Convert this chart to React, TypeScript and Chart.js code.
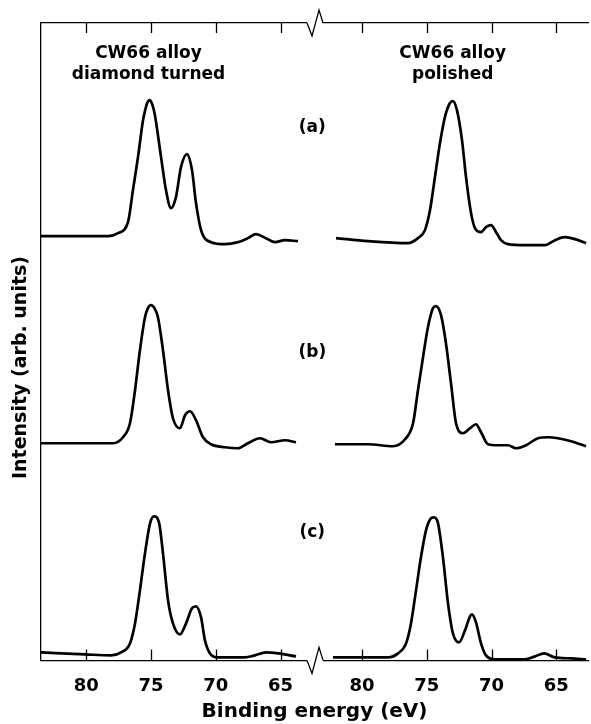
import React, { useEffect, useRef } from "react";
import { Chart, registerables } from "chart.js";

Chart.register(...registerables);

const FONT = "'DejaVu Sans', 'Liberation Sans', Arial, sans-serif";

// ---- axis layout (broken energy axis: two panels on one linear scale) ----
const E_MAX = 83.5; // binding energy at the left edge of each panel (eV)
const PANEL_SHIFT = 21.29; // axis units between the start of the two panels
const AXIS_SPAN = 42.24; // total axis length in eV units
const BREAK_AT = 21.16; // position of the axis break
const Y_SPAN = 6.37; // stacked intensity range (arb. units)

const TICK_ENERGIES = [80, 75, 70, 65];
const ROW_LABELS = ["(a)", "(b)", "(c)"];
const ROW_OFFSETS = [4.24, 2.18, 0.05];
const PANEL_TITLES = [
  ["CW66 alloy", "diamond turned"],
  ["CW66 alloy", "polished"],
];

// ---- spectra: binding energy (eV) and intensity (arb. units) ----
// (a) diamond turned
const A_DT_E = [83.5, 78.33, 77.55, 76.78, 76.4, 76.01, 75.62, 75.49, 75.3, 75.11, 74.92, 74.72, 74.23, 73.85, 73.46, 73.08, 72.69, 72.23, 71.84, 71.53, 71.14, 70.37, 69.29, 68.29, 67.52, 66.9, 66.13, 65.43, 64.66, 63.65];
const A_DT_I = [0, 0, 0.03, 0.14, 0.46, 0.79, 1.16, 1.24, 1.33, 1.36, 1.32, 1.22, 0.79, 0.46, 0.28, 0.39, 0.69, 0.82, 0.66, 0.33, 0.06, -0.06, -0.08, -0.06, -0.02, 0.02, -0.02, -0.06, -0.04, -0.05];
// (a) polished
const A_PO_E = [82.01, 79.54, 76.45, 75.68, 75.14, 74.75, 74.37, 73.98, 73.6, 73.21, 72.98, 72.67, 72.28, 71.97, 71.58, 71.28, 70.81, 70.43, 70.04, 69.65, 69.27, 68.73, 67.42, 65.87, 65.1, 64.33, 63.55, 62.7];
const A_PO_I = [-0.02, -0.05, -0.07, -0.02, 0.06, 0.26, 0.59, 0.93, 1.19, 1.33, 1.35, 1.26, 0.96, 0.59, 0.23, 0.08, 0.04, 0.09, 0.11, 0.04, -0.04, -0.08, -0.09, -0.09, -0.04, -0.01, -0.03, -0.07];
// (b) diamond turned
const B_DT_E = [83.5, 77.94, 77.17, 76.63, 76.24, 75.86, 75.47, 75.24, 75.01, 74.74, 74.47, 74.08, 73.69, 73.31, 72.77, 72.38, 71.99, 71.53, 70.99, 70.37, 69.29, 68.29, 67.52, 66.59, 65.74, 64.66, 63.81];
const B_DT_I = [-0.01, -0.01, 0.05, 0.19, 0.52, 0.92, 1.25, 1.34, 1.37, 1.34, 1.25, 0.92, 0.52, 0.24, 0.14, 0.27, 0.31, 0.22, 0.05, -0.02, -0.05, -0.06, -0.01, 0.04, 0.0, 0.02, 0.0];
// (b) polished
const B_PO_E = [82.09, 79.54, 77.61, 76.68, 76.06, 75.68, 75.29, 74.91, 74.52, 74.29, 73.9, 73.52, 73.13, 72.74, 72.2, 71.66, 71.2, 70.81, 70.27, 69.5, 68.73, 68.11, 67.34, 66.41, 65.64, 64.87, 63.86, 62.7];
const B_PO_I = [-0.02, -0.02, -0.04, 0.03, 0.19, 0.52, 0.85, 1.15, 1.34, 1.36, 1.27, 0.99, 0.59, 0.19, 0.09, 0.14, 0.18, 0.1, -0.02, -0.03, -0.03, -0.06, -0.03, 0.04, 0.05, 0.04, 0.01, -0.04];
// (c) diamond turned
const C_DT_E = [83.5, 80.1, 78.09, 77.32, 76.63, 76.24, 75.86, 75.47, 75.08, 74.77, 74.39, 74.08, 73.69, 73.31, 72.77, 72.3, 71.84, 71.53, 71.14, 70.84, 70.45, 69.83, 67.75, 66.98, 66.13, 65.2, 63.81];
const C_DT_I = [0.03, 0.01, 0, 0.03, 0.12, 0.32, 0.65, 1.02, 1.32, 1.39, 1.33, 1.02, 0.55, 0.32, 0.21, 0.32, 0.47, 0.49, 0.38, 0.15, 0.02, -0.02, -0.02, 0, 0.03, 0.02, -0.01];
// (c) polished
const C_PO_E = [82.24, 80.08, 78.0, 77.22, 76.6, 76.22, 75.83, 75.45, 75.06, 74.67, 74.44, 74.13, 73.75, 73.36, 72.98, 72.51, 72.05, 71.66, 71.51, 71.2, 70.81, 70.43, 69.73, 67.42, 66.64, 65.95, 65.1, 63.86, 62.7];
const C_PO_I = [-0.02, -0.02, -0.02, 0.02, 0.12, 0.32, 0.65, 0.98, 1.25, 1.37, 1.38, 1.32, 0.98, 0.52, 0.22, 0.13, 0.25, 0.39, 0.41, 0.33, 0.12, 0, -0.04, -0.04, -0.01, 0.02, -0.02, -0.03, -0.04];

const SPECTRA = [
  { e: A_DT_E, i: A_DT_I, row: 0, panel: 0 },
  { e: A_PO_E, i: A_PO_I, row: 0, panel: 1 },
  { e: B_DT_E, i: B_DT_I, row: 1, panel: 0 },
  { e: B_PO_E, i: B_PO_I, row: 1, panel: 1 },
  { e: C_DT_E, i: C_DT_I, row: 2, panel: 0 },
  { e: C_PO_E, i: C_PO_I, row: 2, panel: 1 },
];

// annotation placement in axis units
const LABEL_LAYOUT = {
  panelTitleX: [8.3, PANEL_SHIFT + 10.5],
  panelTitleY: [6.06, 5.85],
  rowLabelX: 20.95,
  rowLabelY: [5.32, 3.08, 1.28],
};

const toAxis = (panel: number, e: number) => panel * PANEL_SHIFT + (E_MAX - e);

const decorPlugin = {
  id: "decor",
  afterDraw(chart: any) {
    const { ctx, chartArea } = chart;
    const xs = chart.scales.x;
    const ys = chart.scales.y;
    const { top, bottom } = chartArea;
    ctx.save();
    ctx.strokeStyle = "#000";
    ctx.lineWidth = 1.3;
    ctx.beginPath();
    xs.ticks.forEach((t: any) => {
      const px = Math.round(xs.getPixelForValue(t.value)) + 0.5;
      ctx.moveTo(px, top);
      ctx.lineTo(px, top + 10);
      ctx.moveTo(px, bottom);
      ctx.lineTo(px, bottom - 11);
    });
    ctx.stroke();

    const bx = xs.getPixelForValue(BREAK_AT);
    [top, bottom].forEach((y: number) => {
      ctx.fillStyle = "#fff";
      ctx.fillRect(bx - 8, y - 2, 16, 4);
      ctx.beginPath();
      ctx.moveTo(bx - 8, y);
      ctx.lineTo(bx - 3, y + 13);
      ctx.lineTo(bx + 4, y - 13);
      ctx.lineTo(bx + 8, y);
      ctx.stroke();
    });

    ctx.fillStyle = "#000";
    ctx.textAlign = "center";
    ctx.textBaseline = "middle";
    ctx.font = `bold 17px ${FONT}`;
    PANEL_TITLES.forEach((lines, p) => {
      const px = xs.getPixelForValue(LABEL_LAYOUT.panelTitleX[p]);
      lines.forEach((line, k) => {
        ctx.fillText(line, px, ys.getPixelForValue(LABEL_LAYOUT.panelTitleY[k]));
      });
    });
    ROW_LABELS.forEach((lab, r) => {
      ctx.fillText(
        lab,
        xs.getPixelForValue(LABEL_LAYOUT.rowLabelX),
        ys.getPixelForValue(LABEL_LAYOUT.rowLabelY[r])
      );
    });
    ctx.restore();
  },
};

export default function App() {
  const canvasRef = useRef<HTMLCanvasElement | null>(null);

  useEffect(() => {
    const canvas = canvasRef.current;
    if (!canvas) return;

    const tickValues: number[] = [];
    [0, 1].forEach((p) => TICK_ENERGIES.forEach((e) => tickValues.push(toAxis(p, e))));

    const datasets = SPECTRA.map((s) => ({
      data: s.e.map((e, k) => ({ x: toAxis(s.panel, e), y: ROW_OFFSETS[s.row] + s.i[k] })),
      borderColor: "#000",
      borderWidth: 2.7,
      pointRadius: 0,
      fill: false,
      cubicInterpolationMode: "monotone" as const,
      xAxisID: "x",
      yAxisID: "y",
    }));

    const chart = new Chart(canvas, {
      type: "line",
      data: { datasets },
      options: {
        animation: false,
        responsive: false,
        events: [],
        color: "#000",
        font: { family: FONT },
        layout: { padding: { top: 11, right: 3, bottom: 0, left: 0 } },
        plugins: {
          legend: { display: false },
          tooltip: { enabled: false },
          title: {
            display: true,
            position: "left",
            text: "Intensity (arb. units)",
            color: "#000",
            font: { family: FONT, size: 19, weight: "bold", lineHeight: 1.2 },
            padding: { top: 9.6, bottom: 8.6 },
          },
        },
        scales: {
          x: {
            type: "linear",
            position: "bottom",
            min: 0,
            max: AXIS_SPAN,
            afterBuildTicks: (scale: any) => {
              scale.ticks = tickValues.map((v) => ({ value: v }));
            },
            ticks: {
              autoSkip: false,
              maxRotation: 0,
              padding: 15,
              color: "#000",
              font: { family: FONT, size: 18, weight: "bold", lineHeight: 1.2 },
              callback: (v: any) => {
                const u = Number(v);
                const e = u > BREAK_AT ? E_MAX - (u - PANEL_SHIFT) : E_MAX - u;
                return String(Math.round(e));
              },
            },
            grid: { display: false, drawTicks: false },
            border: { display: true, color: "#000", width: 1.3 },
            title: {
              display: true,
              text: "Binding energy (eV)",
              color: "#000",
              font: { family: FONT, size: 20, weight: "bold", lineHeight: 1.2 },
              padding: { top: -12, bottom: 0 },
            },
          },
          x2: {
            type: "linear",
            position: "top",
            min: 0,
            max: AXIS_SPAN,
            ticks: { display: false },
            grid: { display: false, drawTicks: false },
            border: { display: true, color: "#000", width: 1.3 },
            afterFit: (scale: any) => {
              scale.height = 12;
            },
          },
          y: {
            type: "linear",
            position: "left",
            min: 0,
            max: Y_SPAN,
            ticks: { display: false },
            grid: { display: false, drawTicks: false },
            border: { display: true, color: "#000", width: 1.3 },
          },
        },
      } as any,
      plugins: [decorPlugin],
    });

    return () => chart.destroy();
  }, []);

  return (
    <div style={{ position: "absolute", left: 0, top: 0, width: 591, height: 724, background: "#fff" }}>
      <canvas ref={canvasRef} width={591} height={724} style={{ display: "block", width: 591, height: 724 }} />
    </div>
  );
}
